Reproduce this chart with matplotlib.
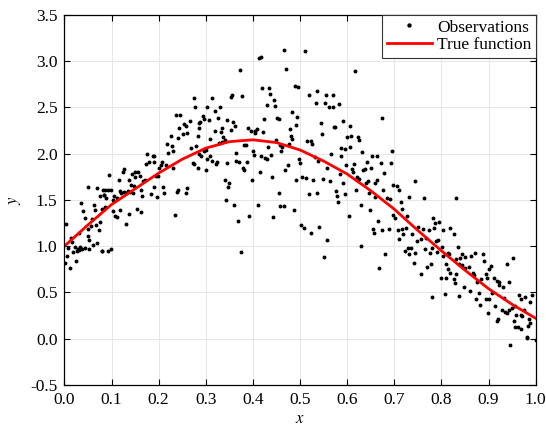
import matplotlib
matplotlib.use("Agg")
import matplotlib.pyplot as plt

plt.rcParams["font.family"] = ["Liberation Serif", "DejaVu Serif"]
plt.rcParams["mathtext.fontset"] = "stix"

# Noisy observations (x, y)
obs_x = [
    0.050, 0.070, 0.081, 0.076, 0.083, 0.036, 0.040, 0.043, 0.063, 0.064,
    0.079, 0.059, 0.049, 0.056, 0.067, 0.075, 0.073, 0.049, 0.053, 0.043,
    0.030, 0.013, 0.016, 0.022, 0.028, 0.033, 0.008, 0.004, 0.005, 0.001,
    0.012, 0.025, 0.019, 0.026, 0.031, 0.038, 0.052, 0.061, 0.069, 0.080,
    0.175, 0.179, 0.174, 0.126, 0.124, 0.143, 0.150, 0.157, 0.160, 0.149,
    0.136, 0.115, 0.095, 0.167, 0.172, 0.142, 0.148, 0.163, 0.117, 0.121,
    0.126, 0.131, 0.135, 0.139, 0.145, 0.165, 0.183, 0.087, 0.092, 0.099,
    0.085, 0.089, 0.105, 0.112, 0.103, 0.087, 0.104, 0.117, 0.108, 0.111,
    0.136, 0.155, 0.162, 0.131, 0.092, 0.098, 0.080,
    0.276, 0.278, 0.237, 0.246, 0.244, 0.254, 0.258, 0.266, 0.261, 0.252,
    0.242, 0.226, 0.286, 0.283, 0.217, 0.228, 0.231, 0.220, 0.268, 0.279,
    0.285, 0.187, 0.190, 0.207, 0.205, 0.191, 0.201, 0.215, 0.272, 0.276,
    0.284, 0.231, 0.194, 0.198, 0.210, 0.191, 0.212, 0.196, 0.238, 0.241,
    0.258, 0.261, 0.234,
    0.372, 0.356, 0.354, 0.376, 0.314, 0.303, 0.320, 0.330, 0.294, 0.296,
    0.307, 0.326, 0.344, 0.358, 0.363, 0.353, 0.390, 0.288, 0.286, 0.319,
    0.334, 0.332, 0.310, 0.337, 0.327, 0.334, 0.340, 0.296, 0.300, 0.381,
    0.385, 0.290, 0.303, 0.310, 0.314, 0.321, 0.323, 0.346, 0.365, 0.365,
    0.370, 0.388, 0.378, 0.381, 0.300, 0.340, 0.349, 0.348, 0.343, 0.360,
    0.392, 0.368, 0.374,
    0.466, 0.510, 0.413, 0.417, 0.470, 0.420, 0.434, 0.436, 0.489, 0.496,
    0.444, 0.429, 0.446, 0.484, 0.494, 0.424, 0.452, 0.455, 0.492, 0.478,
    0.409, 0.405, 0.404, 0.395, 0.422, 0.480, 0.483, 0.514, 0.448, 0.432,
    0.457, 0.462, 0.476, 0.400, 0.402, 0.460, 0.418, 0.426, 0.430, 0.438,
    0.498, 0.501, 0.475, 0.469, 0.414, 0.441, 0.398, 0.491, 0.505, 0.513,
    0.456, 0.411, 0.458, 0.465, 0.487, 0.443, 0.503, 0.508,
    0.616, 0.520, 0.535, 0.533, 0.555, 0.571, 0.553, 0.561, 0.569, 0.582,
    0.544, 0.572, 0.575, 0.591, 0.607, 0.546, 0.600, 0.609, 0.622, 0.626,
    0.524, 0.526, 0.588, 0.596, 0.605, 0.632, 0.565, 0.586, 0.531, 0.539,
    0.598, 0.615, 0.611, 0.613, 0.634, 0.558, 0.584, 0.620, 0.625, 0.528,
    0.548, 0.564, 0.592, 0.619, 0.576, 0.579, 0.581, 0.518, 0.537, 0.595,
    0.629, 0.603, 0.540, 0.523, 0.557, 0.630, 0.551,
    0.673, 0.695, 0.653, 0.664, 0.643, 0.671, 0.693, 0.638, 0.651, 0.679,
    0.640, 0.645, 0.659, 0.663, 0.697, 0.705, 0.743, 0.677, 0.711, 0.646,
    0.659, 0.684, 0.690, 0.732, 0.714, 0.649, 0.717, 0.698, 0.702, 0.727,
    0.666, 0.707, 0.717, 0.751, 0.654, 0.656, 0.675, 0.688, 0.724, 0.719,
    0.711, 0.737, 0.749, 0.722, 0.729, 0.735, 0.731, 0.744, 0.681, 0.741,
    0.668,
    0.763, 0.831, 0.783, 0.794, 0.787, 0.785, 0.773, 0.818, 0.803, 0.761,
    0.768, 0.757, 0.826, 0.793, 0.789, 0.766, 0.780, 0.775, 0.791, 0.801,
    0.835, 0.814, 0.817, 0.803, 0.843, 0.851, 0.863, 0.872, 0.840, 0.831,
    0.810, 0.778, 0.770, 0.837, 0.843, 0.850, 0.858, 0.814, 0.756, 0.819,
    0.831, 0.867, 0.870, 0.799, 0.810, 0.826, 0.828, 0.847, 0.861, 0.780,
    0.807, 0.838,
    0.888, 0.891, 0.952, 0.940, 0.906, 0.902, 0.894, 0.897, 0.885, 0.876,
    0.911, 0.918, 0.922, 0.923, 0.930, 0.943, 0.879, 0.874, 0.883, 0.895,
    0.901, 0.908, 0.932, 0.964, 0.969, 0.978, 0.993, 0.988, 0.913, 0.928,
    0.935, 0.940, 0.944, 0.950, 0.956, 0.959, 0.968, 0.971, 0.976, 0.899,
    0.920, 0.917, 0.954, 0.986, 0.989, 0.984, 0.956, 0.963, 0.970, 0.982,
    1.000, 0.945, 0.981,
]
obs_y = [
    1.64, 1.63, 1.61, 1.54, 1.55, 1.47, 1.38, 1.30, 1.44, 1.39,
    1.40, 1.29, 1.18, 1.22, 1.23, 1.26, 1.17, 1.11, 1.07, 0.98,
    1.14, 1.09, 1.04, 0.99, 0.97, 0.99, 0.98, 1.24, 0.89, 0.82,
    0.76, 0.84, 0.94, 0.95, 0.96, 0.97, 0.97, 1.01, 1.03, 0.95,
    2.00, 1.91, 1.89, 1.83, 1.80, 1.78, 1.80, 1.80, 1.76, 1.75,
    1.72, 1.71, 1.77, 1.70, 1.72, 1.66, 1.65, 1.61, 1.60, 1.58,
    1.59, 1.58, 1.60, 1.59, 1.58, 1.54, 1.56, 1.61, 1.61, 1.61,
    1.55, 1.52, 1.54, 1.52, 1.50, 1.42, 1.38, 1.39, 1.33, 1.31,
    1.35, 1.40, 1.37, 1.24, 0.95, 0.97, 0.95,
    2.60, 2.50, 2.42, 2.42, 2.28, 2.32, 2.30, 2.35, 2.22, 2.21,
    2.17, 2.19, 2.33, 2.19, 2.10, 2.08, 2.03, 2.01, 2.06, 2.08,
    2.00, 1.97, 1.97, 1.91, 1.88, 1.91, 1.85, 1.88, 1.90, 1.89,
    1.84, 1.84, 1.76, 1.76, 1.64, 1.64, 1.58, 1.53, 1.59, 1.61,
    1.57, 1.63, 1.34,
    2.91, 2.64, 2.61, 2.62, 2.60, 2.50, 2.46, 2.51, 2.41, 2.37,
    2.36, 2.39, 2.36, 2.34, 2.30, 2.26, 2.28, 2.34, 2.28, 2.25,
    2.28, 2.23, 2.16, 2.18, 2.12, 2.13, 2.15, 2.03, 2.04, 2.09,
    2.09, 1.97, 1.94, 1.97, 1.92, 1.89, 1.91, 1.90, 2.01, 1.92,
    1.91, 1.91, 1.84, 1.82, 1.82, 1.71, 1.68, 1.64, 1.50, 1.45,
    1.33, 1.27, 0.94,
    3.12, 3.11, 3.03, 3.05, 2.92, 2.71, 2.71, 2.65, 2.73, 2.72,
    2.58, 2.53, 2.52, 2.45, 2.40, 2.38, 2.39, 2.38, 2.31, 2.27,
    2.27, 2.25, 2.22, 2.25, 2.23, 2.19, 2.16, 2.14, 2.15, 2.07,
    2.09, 2.07, 2.10, 2.03, 1.99, 2.03, 1.98, 1.95, 1.94, 1.99,
    1.94, 1.90, 1.88, 1.82, 1.80, 1.75, 1.71, 1.71, 1.75, 1.74,
    1.57, 1.45, 1.43, 1.43, 1.39, 1.31, 1.23, 1.20,
    2.89, 2.64, 2.68, 2.55, 2.63, 2.64, 2.55, 2.51, 2.50, 2.54,
    2.33, 2.29, 2.29, 2.35, 2.30, 2.21, 2.18, 2.19, 2.18, 2.15,
    2.14, 2.10, 2.06, 2.05, 2.07, 2.02, 2.00, 1.97, 1.96, 1.92,
    1.88, 1.89, 1.83, 1.80, 1.82, 1.85, 1.78, 1.75, 1.73, 1.72,
    1.73, 1.70, 1.68, 1.61, 1.60, 1.54, 1.48, 1.56, 1.57, 1.56,
    1.44, 1.33, 1.21, 1.14, 1.07, 1.00, 0.88,
    2.39, 2.03, 1.98, 1.97, 1.91, 1.90, 1.90, 1.83, 1.84, 1.79,
    1.68, 1.70, 1.68, 1.72, 1.66, 1.65, 1.70, 1.61, 1.61, 1.58,
    1.53, 1.52, 1.51, 1.53, 1.48, 1.39, 1.40, 1.34, 1.30, 1.33,
    1.27, 1.17, 1.18, 1.21, 1.18, 1.14, 1.17, 1.18, 1.20, 1.13,
    1.08, 1.13, 1.06, 0.95, 0.98, 0.98, 0.91, 0.93, 0.91, 0.82,
    0.76,
    1.52, 1.52, 1.30, 1.26, 1.25, 1.20, 1.17, 1.20, 1.17, 1.18,
    1.09, 1.08, 1.13, 1.07, 1.06, 0.97, 0.98, 0.93, 0.94, 0.99,
    0.99, 0.93, 0.91, 0.89, 0.92, 0.88, 0.89, 0.93, 0.87, 0.86,
    0.81, 0.81, 0.77, 0.81, 0.80, 0.76, 0.77, 0.75, 0.70, 0.71,
    0.70, 0.71, 0.69, 0.66, 0.66, 0.64, 0.60, 0.56, 0.52, 0.45,
    0.48, 0.46,
    0.92, 0.84, 0.87, 0.81, 0.78, 0.75, 0.70, 0.65, 0.64, 0.61,
    0.65, 0.62, 0.61, 0.585, 0.56, 0.61, 0.49, 0.43, 0.36, 0.43,
    0.43, 0.49, 0.44, 0.47, 0.43, 0.45, 0.47, 0.40, 0.35, 0.31,
    0.29, 0.28, 0.31, 0.33, 0.35, 0.25, 0.25, 0.24, 0.31, 0.28,
    0.21, 0.19, 0.19, 0.21, 0.17, 0.14, 0.12, 0.13, 0.10, 0.02,
    -0.01, -0.07, 0.01,
]

# Underlying function
curve_x = [0.00, 0.05, 0.10, 0.15, 0.20, 0.25, 0.30, 0.35, 0.40, 0.45, 0.50,
           0.55, 0.60, 0.65, 0.70, 0.75, 0.80, 0.85, 0.90, 0.95, 1.00]
curve_y = [1.00, 1.23, 1.45, 1.62, 1.79, 1.94, 2.06, 2.13, 2.15, 2.12, 2.04,
           1.92, 1.78, 1.60, 1.40, 1.17, 0.95, 0.74, 0.54, 0.37, 0.22]

x_ticks = [0.0, 0.1, 0.2, 0.3, 0.4, 0.5, 0.6, 0.7, 0.8, 0.9, 1.0]
y_ticks = [-0.5, 0.0, 0.5, 1.0, 1.5, 2.0, 2.5, 3.0, 3.5]

fig = plt.figure(figsize=(5.46, 4.29), dpi=100)
ax = fig.add_axes([0.118, 0.103, 0.863, 0.862])

ax.plot(obs_x, obs_y, linestyle="none", marker="o", markersize=1.8,
        color="black", label="Observations")
ax.plot(curve_x, curve_y, color="red", linewidth=2.0, label="True function")

ax.set_xlim(0, 1)
ax.set_ylim(-0.5, 3.5)
ax.set_xticks(x_ticks)
ax.set_yticks(y_ticks)
ax.set_xticklabels([f"{t:.1f}" for t in x_ticks])
ax.set_yticklabels([f"{t:.1f}" for t in y_ticks])
ax.tick_params(direction="in", top=True, right=True, labelsize=12.5,
               length=4, width=0.8, pad=5)
ax.grid(True, color="#e6e6e6", linewidth=0.7)
ax.set_axisbelow(True)
for sp in ax.spines.values():
    sp.set_linewidth(0.9)

ax.set_xlabel("$x$", fontsize=12, labelpad=2)
ax.set_ylabel("$y$", fontsize=12, labelpad=5)

leg = ax.legend(loc="upper right", fontsize=12.5, borderaxespad=0,
                fancybox=False, framealpha=1, edgecolor="#333333",
                handlelength=2.6, handletextpad=0.3, borderpad=0.25,
                labelspacing=0.1, markerscale=1.2)
leg.get_frame().set_linewidth(0.8)

fig.savefig("out.png", dpi=100)
